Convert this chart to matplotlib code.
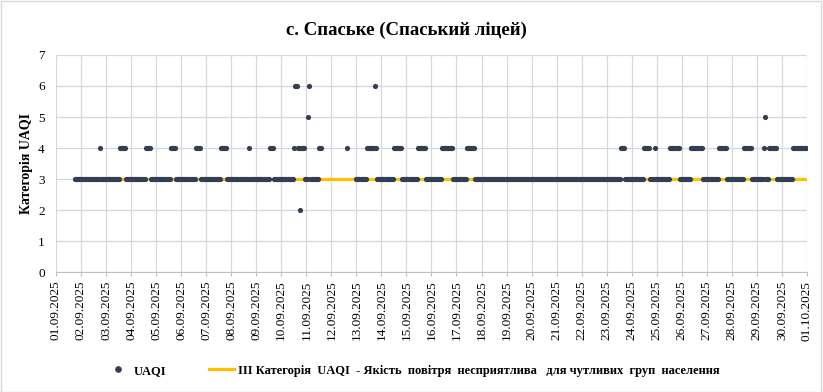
import datetime as dt
import matplotlib
matplotlib.use("Agg")
import matplotlib.pyplot as plt
import matplotlib.dates as mdates
from matplotlib.lines import Line2D

plt.rcParams['font.family'] = ['Liberation Serif', 'DejaVu Serif']

# hourly UAQI category, one string per day (hours 00..23), '-' = no data
days = ["01.09", "02.09", "03.09", "04.09", "05.09", "06.09", "07.09", "08.09", "09.09", "10.09",
        "11.09", "12.09", "13.09", "14.09", "15.09", "16.09", "17.09", "18.09", "19.09", "20.09",
        "21.09", "22.09", "23.09", "24.09", "25.09", "26.09", "27.09", "28.09", "29.09", "30.09"]
hourly = [
    "------------------333333",
    "333333333333333333433333",
    "333333333333344444433333",
    "333333333333334444433333",
    "333333333333334444433333",
    "333333333333334444433333",
    "333333333333334444443333",
    "333333333333333334333333",
    "333333333333344443333333",
    "333333333333466644244443",
    "335633333333444---------",
    "---------------4--------",
    "333333333344444444643333",
    "333333333333444444443333",
    "333333333334444444433333",
    "333333333344444444444333",
    "333333333344444444333333",
    "333333333333333333333333",
    "333333333333333333333333",
    "333333333333333333333333",
    "333333333333333333333333",
    "333333333333333333333333",
    "333333333333334444333333",
    "333333333333444444333343",
    "333333333333344444444433",
    "333333333444444444443333",
    "333333333333444444433333",
    "333333333333444444433333",
    "333333345333444444433333",
    "333333333334444444444444",
]
threshold = 3
threshold_start = "01.09.2025 18:00"
threshold_end = "01.10.2025 00:00"

title = "с. Спаське (Спаський ліцей)"
ylabel = "Категорія UAQI"
series_label = "UAQI"
line_label = "ІІІ Категорія  UAQI  - Якість  повітря  несприятлива   для чутливих  груп  населення"

times, values = [], []
for d, s in zip(days, hourly):
    base = dt.datetime.strptime(d + ".2025", "%d.%m.%Y")
    for h, c in enumerate(s):
        if c != "-":
            times.append(base + dt.timedelta(hours=h))
            values.append(int(c))

fig = plt.figure(figsize=(8.23, 3.92), dpi=100)
ax = fig.add_axes([0.068, 0.305, 0.9125, 0.555])

t0 = dt.datetime.strptime(threshold_start, "%d.%m.%Y %H:%M")
t1 = dt.datetime.strptime(threshold_end, "%d.%m.%Y %H:%M")
ax.plot([t0, t1], [threshold, threshold], color="#FFC000", lw=2.3, zorder=2,
        solid_capstyle="butt")
ax.scatter(times, values, s=14, color="#333F50", zorder=3, linewidths=0)

ax.set_xlim(dt.datetime(2025, 9, 1), dt.datetime(2025, 10, 1))
ax.set_ylim(0, 7)
ax.set_yticks(range(0, 8))
ax.xaxis.set_major_locator(mdates.DayLocator())
ax.xaxis.set_major_formatter(mdates.DateFormatter("%d.%m.%Y"))
plt.setp(ax.get_xticklabels(), rotation=90)

ax.grid(axis="x", color="#D9D9D9", lw=0.9, zorder=0)
ax.grid(axis="y", color="#D0D8E8", lw=0.9, zorder=0)
ax.set_axisbelow(True)
for side in ["top", "right", "left"]:
    ax.spines[side].set_visible(False)
ax.spines["bottom"].set_color("#BFBFBF")
ax.tick_params(axis="x", length=3, color="#BFBFBF", labelsize=9.5, pad=3)
ax.tick_params(axis="y", length=0, labelsize=9.5, pad=8)

ax.set_ylabel(ylabel, fontsize=10, fontweight="bold", labelpad=4)
fig.text(0.494, 0.923, title, ha="center", va="center", fontsize=13.5, fontweight="bold")

handles = [Line2D([], [], marker="o", ls="none", color="#333F50", markersize=3.8),
           Line2D([], [], color="#FFC000", lw=2.3)]
fig.legend(handles, [series_label, line_label], loc="center", bbox_to_anchor=(0.501, 0.054),
           ncol=2, frameon=False, prop={"weight": "bold", "size": 9},
           handlelength=2.0, columnspacing=3.4, handletextpad=0.3, borderpad=0, borderaxespad=0)

fig.patches.append(plt.Rectangle((0.001, 0.001), 0.997, 0.997, transform=fig.transFigure,
                                 fill=False, edgecolor="#D9D9D9", lw=1))
fig.savefig("out.png", dpi=100)
